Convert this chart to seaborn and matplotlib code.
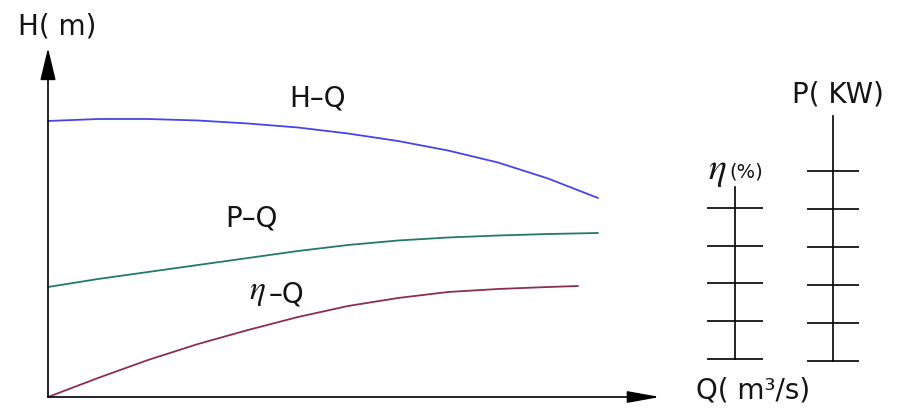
import matplotlib
matplotlib.use("Agg")
import matplotlib.pyplot as plt
import seaborn as sns
from matplotlib.patches import ArrowStyle

# Pump characteristic curves (schematic units)
q_h = [0, 1, 2, 3, 4, 5, 6, 7, 8, 9, 10, 11]
head = [27.6, 27.8, 27.8, 27.65, 27.35, 26.95, 26.35, 25.6, 24.65, 23.45, 21.85, 19.9]

q_p = [0, 1, 2, 3, 4, 5, 6, 7, 8, 9, 10, 11]
power = [11.0, 11.8, 12.5, 13.2, 13.9, 14.6, 15.2, 15.65, 15.95, 16.15, 16.3, 16.4]

q_eta = [0, 1, 2, 3, 4, 5, 6, 7, 8, 9, 10, 10.6]
eta = [0.0, 1.9, 3.7, 5.3, 6.7, 8.0, 9.1, 9.9, 10.5, 10.8, 11.0, 11.1]

# Auxiliary scales on the right
eta_ticks = [0, 20, 40, 60, 80]
p_ticks = [0, 1, 2, 3, 4, 5]

curve_labels = ["H–Q", "P–Q", "–Q"]

sns.set_style("white")
plt.rcParams["font.family"] = ["DejaVu Sans"]
plt.rcParams["mathtext.fontset"] = "stix"

W, H = 898, 408
fig = plt.figure(figsize=(W / 100, H / 100), dpi=100)
ax = fig.add_axes([0, 0, 1, 1])
ax.set_xlim(-0.96, 17.0)
ax.set_ylim(-1.1, 39.7)
ax.axis("off")

sns.lineplot(x=q_h, y=head, ax=ax, color="#4646e6", lw=1.3)
sns.lineplot(x=q_p, y=power, ax=ax, color="#237a68", lw=1.3)
sns.lineplot(x=q_eta, y=eta, ax=ax, color="#8c2e50", lw=1.3)

# coordinate axes with arrow heads
ax.annotate("", xy=(0, 34.9), xytext=(0, 0),
            arrowprops=dict(arrowstyle=ArrowStyle("-|>", head_length=1.0, head_width=0.24),
                            mutation_scale=20, color="black", lw=1.2,
                            shrinkA=0, shrinkB=0))
ax.annotate("", xy=(12.24, 0), xytext=(0, 0),
            arrowprops=dict(arrowstyle=ArrowStyle("-|>", head_length=1.0, head_width=0.18),
                            mutation_scale=20, color="black", lw=1.2,
                            shrinkA=0, shrinkB=0))


def px(x, y):
    return x / W, 1 - y / H


def scale_axis(x, top, bottom, ticks, ymax, tick_len):
    x0, y0 = px(x, bottom)
    _, y1 = px(x, top)
    sax = fig.add_axes([x0, y0, 0.0005, y1 - y0])
    sax.set_ylim(0, ymax)
    sax.set_yticks(ticks)
    sax.set_yticklabels([])
    sax.set_xticks([])
    for side in ("top", "right", "bottom"):
        sax.spines[side].set_visible(False)
    sax.spines["left"].set_linewidth(1.2)
    sax.spines["left"].set_color("black")
    sax.tick_params(axis="y", direction="inout", length=tick_len, width=1.2,
                    color="black", left=True)
    sax.patch.set_visible(False)
    return sax


scale_axis(735, 187, 359, eta_ticks, 91.1, 41)
scale_axis(833, 116, 361, p_ticks, 6.45, 38)

ink = "#141414"
txt = dict(color=ink, fontsize=20, ha="center", va="baseline")
fig.text(*px(57, 35), "H( m)", **txt)
fig.text(*px(317, 107), curve_labels[0], **txt)
fig.text(*px(251, 227), curve_labels[1], **txt)
fig.text(*px(257, 299), r"$\eta$", color=ink, fontsize=24, ha="center", va="baseline")
fig.text(*px(269, 302), curve_labels[2], color=ink, fontsize=20, ha="left", va="baseline")
fig.text(*px(838, 103), "P( KW)", **txt)
fig.text(*px(753, 398), "Q( m³/s)", **txt)
fig.text(*px(717, 179), r"$\eta$", color=ink, fontsize=27, ha="center", va="baseline")
fig.text(*px(729, 178), "(%)", color=ink, fontsize=14, ha="left", va="baseline")

fig.savefig("out.png", dpi=100)
